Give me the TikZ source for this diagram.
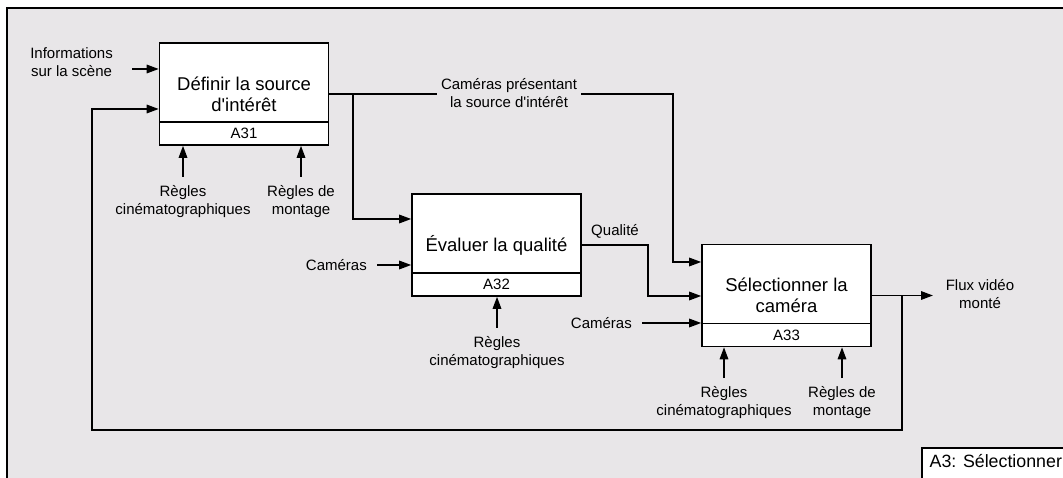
\documentclass[tikz,border=0pt]{standalone}
\usepackage{fontspec}
\setmainfont{Liberation Sans}
\usetikzlibrary{arrows.meta,positioning}
\definecolor{panelgray}{HTML}{E8E6E8}
\tikzstyle{wire}=[line width=1.6bp]
\tikzstyle{arrow}=[wire,-{Triangle[length=12bp,width=8.5bp]}]
\tikzstyle{func}=[draw,wire,fill=white,minimum width=169bp,minimum height=102bp,inner sep=0pt,align=center,font=\fontsize{18.5bp}{21bp}\selectfont]
\tikzstyle{tag}=[draw,wire,fill=white,minimum width=169bp,minimum height=23bp,inner sep=0pt,font=\fontsize{15bp}{18bp}\selectfont]
\tikzstyle{lbl}=[align=center,inner sep=1bp,font=\fontsize{15bp}{18bp}\selectfont]

\begin{document}
\begin{tikzpicture}[x=1bp,y=-1bp]
    \useasboundingbox (0,0) rectangle (1063,478);
    \draw[wire,fill=panelgray] (7,8) rectangle (1090,500);
    \draw[wire,fill=white] (922,448) rectangle (1090,500);
    \node (ttl) [anchor=base west,inner sep=0pt,font=\fontsize{17.8bp}{21bp}\selectfont] at (929.5,467) {A3: Sélectionner};

    % activities
    \node (f1) [func] at (244,94) {Définir la source\\d\textquotesingle intérêt};
    \node (t1) [tag,anchor=south] at (f1.south) {A31};
    \node (f2) [func] at (496.5,245) {Évaluer la qualité};
    \node (t2) [tag,anchor=south] at (f2.south) {A32};
    \node (f3) [func] at (786.5,295.5) {Sélectionner la\\caméra};
    \node (t3) [tag,anchor=south] at (f3.south) {A33};

    % inputs
    \coordinate (a1) at (132,69);
    \node (info) [lbl,left=18bp of a1,yshift=7bp] {Informations\\sur la scène};
    \draw[arrow] (a1) -- (a1 -| f1.west);
    \coordinate (a2) at (377,265);
    \node (cam2) [lbl,left=9bp of a2] {Caméras};
    \draw[arrow] (a2) -- (a2 -| f2.west);
    \coordinate (a3) at (642,323);
    \node (cam3) [lbl,left=9bp of a3] {Caméras};
    \draw[arrow] (a3) -- (a3 -| f3.west);

    % flows between activities
    \coordinate (s1) at (353,94);
    \coordinate (k1) at (673,262);
    \draw[arrow] (f1.east) -| (k1) -- (k1 -| f3.west);
    \coordinate (k2) at (353,219);
    \draw[arrow] (s1) -- (k2) -- (k2 -| f2.west);
    \node (pres) [lbl,fill=panelgray,inner xsep=4bp] at (509,93) {Caméras présentant\\la source d\textquotesingle intérêt};
    \coordinate (k3) at (648,296);
    \draw[arrow] (f2.east) -| (k3) -- (k3 -| f3.west);
    \node (qual) [lbl] at (615,231) {Qualité};

    % output and feedback
    \coordinate (out) at (933,295.5);
    \draw[arrow] (f3.east) -- (out);
    \node (flux) [lbl] at (980,294) {Flux vidéo\\monté};
    \coordinate (j) at (902,295.5);
    \coordinate (fb) at (92,430);
    \coordinate (r1) at (92,109);
    \draw[arrow] (j) |- (fb) -- (r1) -- (r1 -| f1.west);

    % controls
    \coordinate (c11) at (183,177);
    \node (cin1) [lbl,below=7bp of c11] {Règles\\cinématographiques};
    \draw[arrow] (c11) -- (c11 |- t1.south);
    \coordinate (c12) at (301,177);
    \node (mon1) [lbl,below=7bp of c12] {Règles de\\montage};
    \draw[arrow] (c12) -- (c12 |- t1.south);
    \coordinate (c21) at (497,328);
    \node (cin2) [lbl,below=7bp of c21] {Règles\\cinématographiques};
    \draw[arrow] (c21) -- (c21 |- t2.south);
    \coordinate (c31) at (724,378);
    \node (cin3) [lbl,below=7bp of c31] {Règles\\cinématographiques};
    \draw[arrow] (c31) -- (c31 |- t3.south);
    \coordinate (c32) at (842,378);
    \node (mon3) [lbl,below=7bp of c32] {Règles de\\montage};
    \draw[arrow] (c32) -- (c32 |- t3.south);
\end{tikzpicture}
\end{document}
